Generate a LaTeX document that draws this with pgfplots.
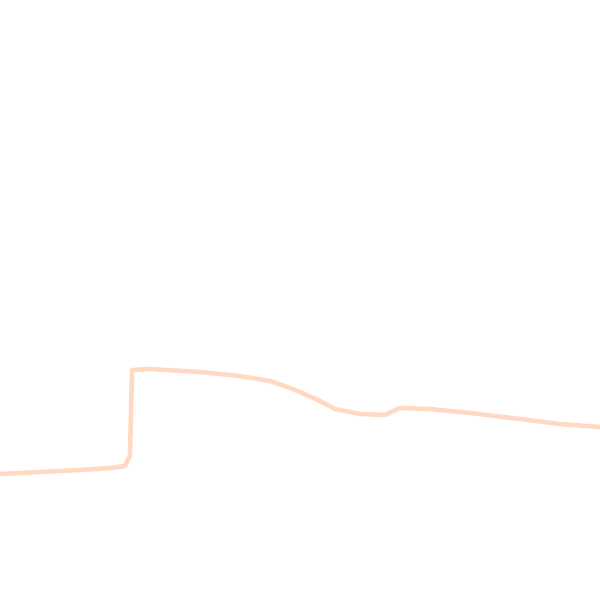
\documentclass[border=0pt]{standalone}
\usepackage{pgfplots}
\pgfplotsset{compat=1.18}
\definecolor{peach}{RGB}{255,217,194}
\begin{document}
\begin{tikzpicture}
\begin{axis}[
    width=200pt, height=200pt,
    scale only axis,
    hide axis,
    xmin=0, xmax=600,
    ymin=0, ymax=600,
    clip=true,
]
\path (rel axis cs:0,0) rectangle (rel axis cs:1,1);
\addplot[peach, line width=1.5pt, line join=round] coordinates {
    (0,126) (40,128) (80,130) (110,132) (125,134) (130,145)
    (132,230) (150,231) (200,228) (240,224) (270,219) (290,212)
    (300,208) (320,199) (335,191) (360,186) (385,185) (400,192)
    (430,191) (470,187) (520,181) (560,176) (600,173)
};
\end{axis}
\end{tikzpicture}
\end{document}
